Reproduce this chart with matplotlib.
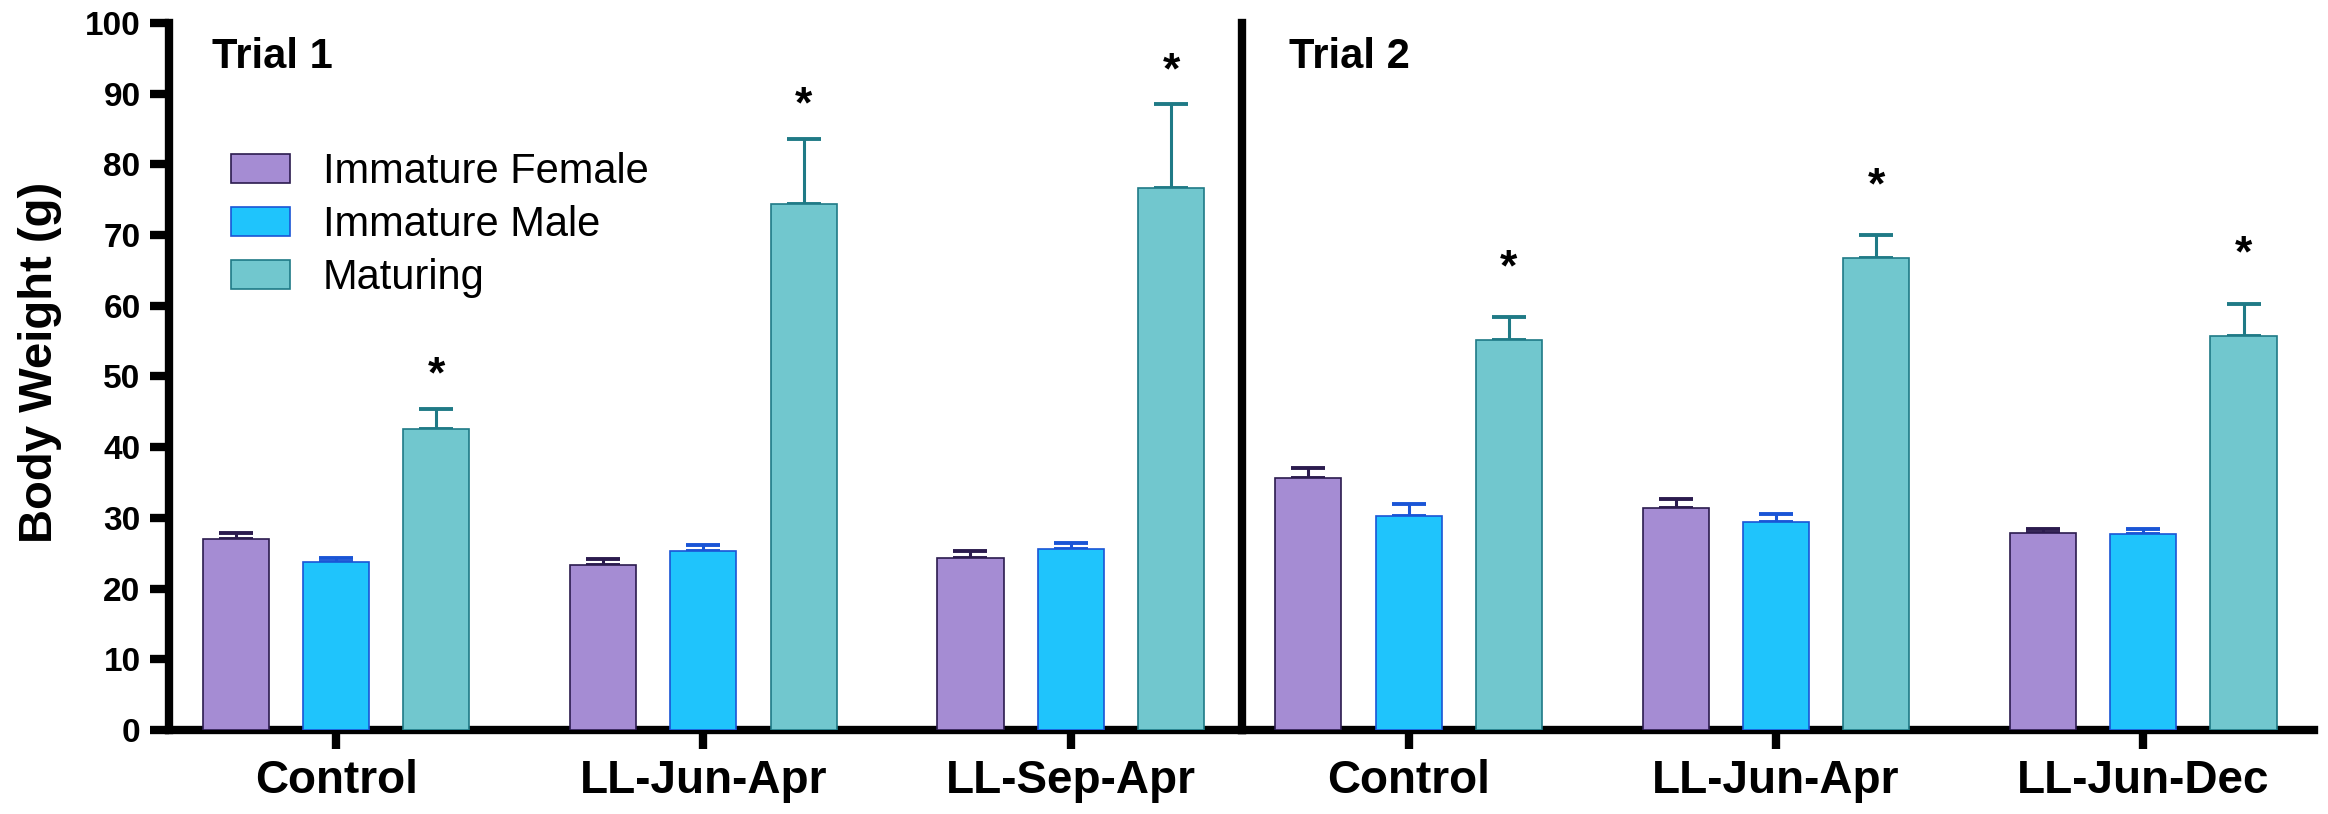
import numpy as np
import matplotlib.pyplot as plt

plt.rcParams['font.family'] = ['Liberation Sans', 'DejaVu Sans']

groups_t1 = ["Control", "LL-Jun-Apr", "LL-Sep-Apr"]
groups_t2 = ["Control", "LL-Jun-Apr", "LL-Jun-Dec"]
series = ["Immature Female", "Immature Male", "Maturing"]

# Trial 1 means and SEM
t1_female = [27.0, 23.3, 24.3]
t1_female_err = [0.9, 0.9, 1.0]
t1_male = [23.8, 25.3, 25.6]
t1_male_err = [0.5, 0.9, 0.8]
t1_mat = [42.6, 74.4, 76.7]
t1_mat_err = [2.8, 9.2, 11.8]

# Trial 2 means and SEM
t2_female = [35.6, 31.4, 27.9]
t2_female_err = [1.5, 1.3, 0.5]
t2_male = [30.3, 29.4, 27.7]
t2_male_err = [1.7, 1.2, 0.7]
t2_mat = [55.2, 66.8, 55.7]
t2_mat_err = [3.2, 3.2, 4.6]

fills = ["#A58CD3", "#1FC4FC", "#71C7CE"]
edges = ["#2B1B4E", "#1A55D6", "#1F7A86"]

fig, axes = plt.subplots(1, 2, figsize=(23.28, 8.14), dpi=100, sharey=True)
plt.subplots_adjust(left=0.0726, right=0.994, bottom=0.103, top=0.972, wspace=0)

width = 0.18
offs = [-0.273, 0.0, 0.273]

panels = [
    (axes[0], groups_t1, [t1_female, t1_male, t1_mat],
     [t1_female_err, t1_male_err, t1_mat_err], "Trial 1", 3.0, 0.040),
    (axes[1], groups_t2, [t2_female, t2_male, t2_mat],
     [t2_female_err, t2_male_err, t2_mat_err], "Trial 2", 5.2, 0.044),
]

for ax, cats, vals, errs, title, star_off, tx in panels:
    x = np.arange(len(cats))
    for i in range(3):
        ax.bar(x + offs[i], vals[i], width, color=fills[i], edgecolor=edges[i],
               linewidth=1.2, label=series[i], zorder=3)
        ax.errorbar(x + offs[i], vals[i], yerr=[np.zeros(len(cats)), errs[i]],
                    fmt='none', ecolor=edges[i], elinewidth=2.2, capsize=12,
                    capthick=2.8, zorder=2)
    # significance stars over maturing bars
    for j in range(len(cats)):
        ax.text(x[j] + offs[2], vals[2][j] + errs[2][j] + star_off, "*",
                ha='center', va='baseline', fontsize=32, fontweight='bold')
    ax.set_xticks(x)
    ax.set_xticklabels(cats, fontsize=33, fontweight='bold')
    ax.set_xlim(-0.455, 2.465)
    ax.text(tx, 0.936, title, transform=ax.transAxes, fontsize=30,
            fontweight='bold', ha='left', va='baseline')
    ax.spines['top'].set_visible(False)
    ax.spines['right'].set_visible(False)
    ax.spines['bottom'].set_linewidth(6)
    ax.spines['left'].set_linewidth(6)
    ax.tick_params(axis='x', length=14, width=6, pad=7)
    ax.tick_params(axis='y', length=14, width=6, pad=6.5)

axes[1].tick_params(axis='y', length=0, labelleft=False)

ax = axes[0]
ax.set_ylim(0, 100)
ax.set_yticks(np.arange(0, 101, 10))
for lab in ax.get_yticklabels():
    lab.set_fontsize(24)
    lab.set_fontweight('bold')
ax.set_ylabel("Body Weight (g)", fontsize=34, fontweight='bold')
ax.yaxis.set_label_coords(-0.100, 0.52)

ax.legend(loc='upper left', bbox_to_anchor=(0.058, 0.817), frameon=False,
          fontsize=30, handlelength=1.4, handleheight=0.7, handletextpad=0.8,
          labelspacing=0.31, borderpad=0, borderaxespad=0)

plt.savefig("out.png", dpi=100)
